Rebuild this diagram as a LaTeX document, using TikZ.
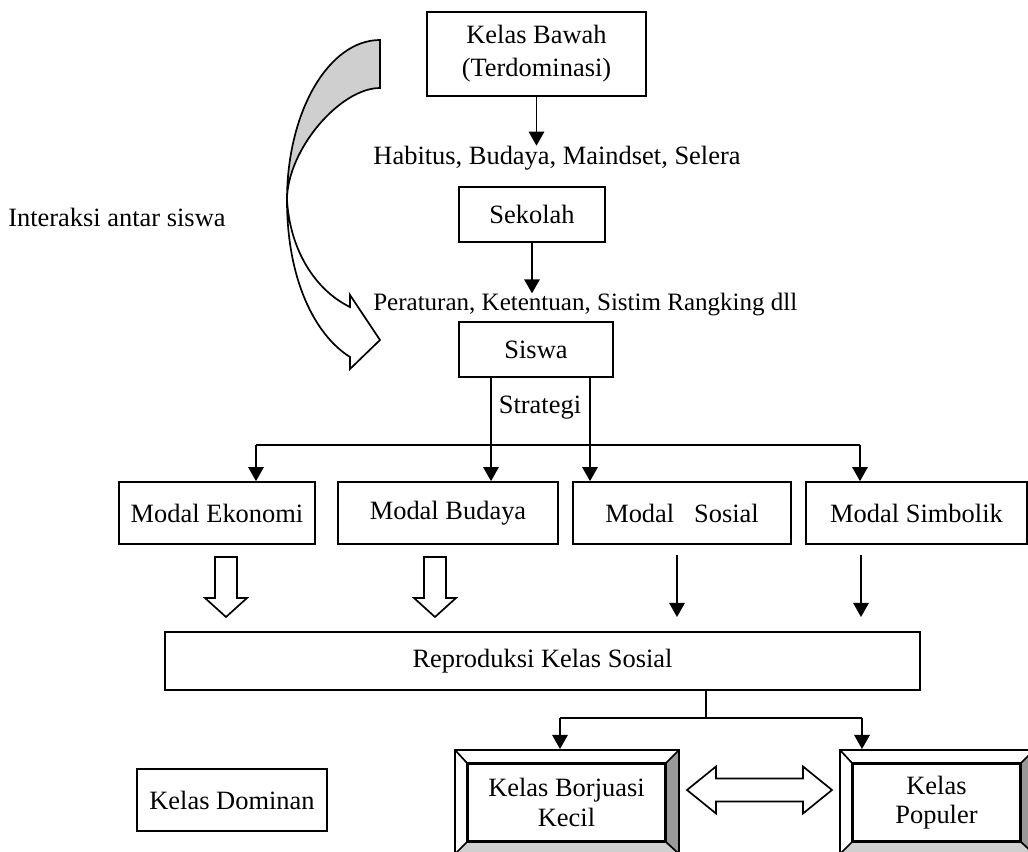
\documentclass[tikz,border=0pt]{standalone}
\usepackage{fontspec}
\setmainfont{Liberation Serif}
\usetikzlibrary{arrows.meta}
\definecolor{abu}{gray}{0.81}
\definecolor{abutua}{gray}{0.6}

\tikzset{
	kotak/.style={draw, line width=1.2pt, inner sep=0pt, align=center},
	teks/.style={inner sep=0pt},
	garis/.style={line width=1.2pt},
	panah/.style={line width=1.2pt, -{Triangle[length=10pt,width=11pt]}},
}

\begin{document}
\begin{tikzpicture}[x=0.025cm, y=-0.025cm, font=\fontsize{18.8}{23.5}\selectfont]
	\useasboundingbox (0,0) rectangle (1028,852);
	
	% curved arrow on the left
	\filldraw[fill=abu, line width=1.2pt] (380,40) .. controls (328.7,40) and (287,111.7) .. (287,200)
		.. controls (287,150) and (340,88) .. (380,88) -- cycle;
	\filldraw[fill=white, line width=1.2pt] (287,200) .. controls (287,280) and (315,335) .. (350,357)
		-- (350,369) -- (380,340) -- (350,295) -- (350,307)
		.. controls (315,290) and (290,250) .. (287,200) -- cycle;
	\node[teks, anchor=west] (interaksi) at (8,217) {Interaksi antar siswa};
	
	\node[kotak, minimum width=5.475cm, minimum height=2.1cm] (bawah) at (536.5,54) {Kelas Bawah\\(Terdominasi)};
	\node[teks] (habitus) at (557,158) {Habitus, Budaya, Maindset, Selera};
	\node[kotak, minimum width=3.65cm, minimum height=1.375cm] (sekolah) at (532,214.5) {Sekolah};
	\node[teks, anchor=west, font=\fontsize{17.8}{21}\selectfont] (peraturan) at (373,305) {Peraturan, Ketentuan, Sistim Rangking dll};
	\node[kotak, minimum width=3.85cm, minimum height=1.375cm] (siswa) at (536,349.5) {Siswa};
	\node[teks] (strategi) at (540,408) {Strategi};
	
	\node[kotak, minimum width=4.9cm, minimum height=1.55cm] (ekonomi) at (217,513) {Modal Ekonomi};
	\node[kotak, minimum width=5.5cm, minimum height=1.55cm] (budaya) at (448,513) {Modal Budaya};
	\node[kotak, minimum width=5.45cm, minimum height=1.55cm] (sosial) at (682,513) {Modal \ \ Sosial};
	\node[kotak, minimum width=5.525cm, minimum height=1.55cm] (simbolik) at (916.5,513) {Modal Simbolik};
	
	\node[kotak, minimum width=18.875cm, minimum height=1.45cm] (reproduksi) at (542.5,661) {Reproduksi Kelas Sosial};
	
	\node[kotak, minimum width=4.75cm, minimum height=1.55cm] (dominan) at (232,800) {Kelas Dominan};
	\node[kotak, minimum width=4.925cm, minimum height=1.925cm, font=\fontsize{18.8}{21}\selectfont] (borjuasi) at (566.5,802.5) {Kelas Borjuasi\\Kecil};
	\node[kotak, minimum width=4.175cm, minimum height=1.925cm, font=\fontsize{18.8}{21}\selectfont] (populer) at (936.5,802.5) {Kelas\\Populer};
	
	% bevel frames
	\foreach \b in {borjuasi,populer}{
		\fill[abutua] (\b.north east) -- ([shift={(13,-13)}]\b.north east) -- ([shift={(13,12)}]\b.south east) -- (\b.south east) -- cycle;
		\fill[abu] (\b.south west) -- ([shift={(-12,12)}]\b.south west) -- ([shift={(13,12)}]\b.south east) -- (\b.south east) -- cycle;
		\draw[garis] ([shift={(-12,-13)}]\b.north west) rectangle ([shift={(13,12)}]\b.south east);
		\draw[garis] (\b.north west) rectangle (\b.south east);
		\draw[garis] (\b.north west) -- ([shift={(-12,-13)}]\b.north west);
		\draw[garis] (\b.north east) -- ([shift={(13,-13)}]\b.north east);
		\draw[garis] (\b.south west) -- ([shift={(-12,12)}]\b.south west);
		\draw[garis] (\b.south east) -- ([shift={(13,12)}]\b.south east);
	}
	
	\draw[panah] (bawah) -- (bawah |- habitus.north);
	\draw[panah] (sekolah) -- (sekolah |- peraturan.north);
	
	\coordinate (sa) at (491,0);
	\coordinate (sb) at (590,0);
	\draw[panah] (sa |- siswa.south) -- (sa |- budaya.north);
	\draw[panah] (sb |- siswa.south) -- (sb |- sosial.north);
	\coordinate (ka) at (256,445);
	\coordinate (kb) at (860,445);
	\draw[garis] (ka) -- (kb);
	\draw[panah] (ka) -- (ka |- ekonomi.north);
	\draw[panah] (kb) -- (kb |- simbolik.north);
	
	% hollow arrows
	\foreach \x in {226,435}
		\draw[garis, fill=white] (\x-11,557) -- (\x-11,598) -- (\x-21,598) -- (\x,617) -- (\x+21,598) -- (\x+11,598) -- (\x+11,557) -- cycle;
	\draw[panah] (677,555) -- (677,617);
	\draw[panah] (861,555) -- (861,617);
	
	\coordinate (ra) at (706,718);
	\coordinate (rb) at (560,718);
	\coordinate (rc) at (862,718);
	\draw[garis] (ra |- reproduksi.south) -- (ra);
	\draw[garis] (rb) -- (rc);
	\draw[panah] (rb) -- (rb |- 0,749);
	\draw[panah] (rc) -- (rc |- 0,749);
	
	% double arrow
	\draw[garis, fill=white] (687,790) -- (716,766.5) -- (716,778.5) -- (803,778.5) -- (803,766.5) -- (832,790)
		-- (803,813.5) -- (803,801.5) -- (716,801.5) -- (716,813.5) -- cycle;
	
\end{tikzpicture}
\end{document}
